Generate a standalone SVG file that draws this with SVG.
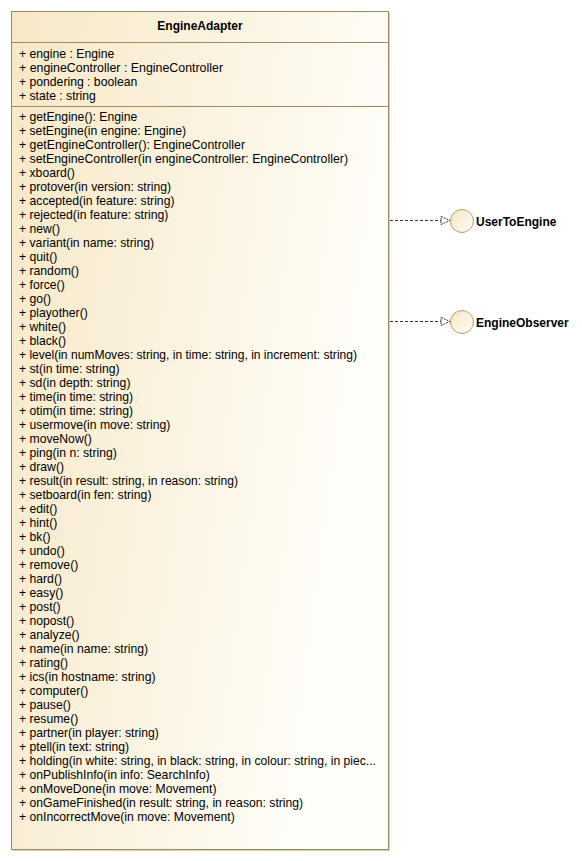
<svg xmlns="http://www.w3.org/2000/svg" width="582" height="861" viewBox="0 0 582 861">
<defs>
<linearGradient id="boxg" x1="0" y1="0" x2="1" y2="0.3">
<stop offset="0" stop-color="#f7e8c6"/>
<stop offset="1" stop-color="#fffefa"/>
</linearGradient>
<linearGradient id="cg" x1="0" y1="0" x2="1" y2="1">
<stop offset="0" stop-color="#f6e6c0"/>
<stop offset="1" stop-color="#fffdf6"/>
</linearGradient>
<marker id="real" markerWidth="12" markerHeight="12" refX="10" refY="5" orient="auto" markerUnits="userSpaceOnUse">
<path d="M1,1 L10,5 L1,9 Z" fill="#ffffff" stroke="#333" stroke-width="1" stroke-dasharray="2,1"/>
</marker>
<style>
.t{font-family:"Liberation Sans",Arial,sans-serif;font-size:12.2px;fill:#000}
.b{font-family:"Liberation Sans",Arial,sans-serif;font-size:12px;font-weight:bold;fill:#000}
.sep{stroke:#9c8a5c;stroke-width:1}
.con{stroke:#333;stroke-width:1;stroke-dasharray:3,2;fill:none}
</style>
</defs>
<g id="EngineAdapter">
<rect x="13" y="13" width="377" height="838" fill="#d8d0bc"/>
<rect x="11.5" y="11.5" width="377" height="838" fill="url(#boxg)" stroke="#9c8a5c"/>
<line class="sep" x1="12" y1="42.5" x2="388" y2="42.5"/>
<line class="sep" x1="12" y1="106.5" x2="388" y2="106.5"/>
<text class="b" x="200" y="30" text-anchor="middle">EngineAdapter</text>
<text class="t" x="19" y="58">+ engine : Engine</text>
<text class="t" x="19" y="72" textLength="204" lengthAdjust="spacingAndGlyphs">+ engineController : EngineController</text>
<text class="t" x="19" y="86">+ pondering : boolean</text>
<text class="t" x="19" y="100">+ state : string</text>
<text class="t" x="19" y="121">+ getEngine(): Engine</text>
<text class="t" x="19" y="135">+ setEngine(in engine: Engine)</text>
<text class="t" x="19" y="149" textLength="226" lengthAdjust="spacingAndGlyphs">+ getEngineController(): EngineController</text>
<text class="t" x="19" y="163" textLength="329" lengthAdjust="spacingAndGlyphs">+ setEngineController(in engineController: EngineController)</text>
<text class="t" x="19" y="177">+ xboard()</text>
<text class="t" x="19" y="191">+ protover(in version: string)</text>
<text class="t" x="19" y="205">+ accepted(in feature: string)</text>
<text class="t" x="19" y="219">+ rejected(in feature: string)</text>
<text class="t" x="19" y="233">+ new()</text>
<text class="t" x="19" y="247">+ variant(in name: string)</text>
<text class="t" x="19" y="261">+ quit()</text>
<text class="t" x="19" y="275">+ random()</text>
<text class="t" x="19" y="289">+ force()</text>
<text class="t" x="19" y="303">+ go()</text>
<text class="t" x="19" y="317">+ playother()</text>
<text class="t" x="19" y="331">+ white()</text>
<text class="t" x="19" y="345">+ black()</text>
<text class="t" x="19" y="359" textLength="338" lengthAdjust="spacingAndGlyphs">+ level(in numMoves: string, in time: string, in increment: string)</text>
<text class="t" x="19" y="373">+ st(in time: string)</text>
<text class="t" x="19" y="387">+ sd(in depth: string)</text>
<text class="t" x="19" y="401">+ time(in time: string)</text>
<text class="t" x="19" y="415">+ otim(in time: string)</text>
<text class="t" x="19" y="429">+ usermove(in move: string)</text>
<text class="t" x="19" y="443">+ moveNow()</text>
<text class="t" x="19" y="457">+ ping(in n: string)</text>
<text class="t" x="19" y="471">+ draw()</text>
<text class="t" x="19" y="485" textLength="219" lengthAdjust="spacingAndGlyphs">+ result(in result: string, in reason: string)</text>
<text class="t" x="19" y="499">+ setboard(in fen: string)</text>
<text class="t" x="19" y="513">+ edit()</text>
<text class="t" x="19" y="527">+ hint()</text>
<text class="t" x="19" y="541">+ bk()</text>
<text class="t" x="19" y="555">+ undo()</text>
<text class="t" x="19" y="569">+ remove()</text>
<text class="t" x="19" y="583">+ hard()</text>
<text class="t" x="19" y="597">+ easy()</text>
<text class="t" x="19" y="611">+ post()</text>
<text class="t" x="19" y="625">+ nopost()</text>
<text class="t" x="19" y="639">+ analyze()</text>
<text class="t" x="19" y="653">+ name(in name: string)</text>
<text class="t" x="19" y="667">+ rating()</text>
<text class="t" x="19" y="681">+ ics(in hostname: string)</text>
<text class="t" x="19" y="695">+ computer()</text>
<text class="t" x="19" y="709">+ pause()</text>
<text class="t" x="19" y="723">+ resume()</text>
<text class="t" x="19" y="737">+ partner(in player: string)</text>
<text class="t" x="19" y="751">+ ptell(in text: string)</text>
<text class="t" x="19" y="765" textLength="357" lengthAdjust="spacingAndGlyphs">+ holding(in white: string, in black: string, in colour: string, in piec...</text>
<text class="t" x="19" y="779">+ onPublishInfo(in info: SearchInfo)</text>
<text class="t" x="19" y="793">+ onMoveDone(in move: Movement)</text>
<text class="t" x="19" y="807">+ onGameFinished(in result: string, in reason: string)</text>
<text class="t" x="19" y="821">+ onIncorrectMove(in move: Movement)</text>
</g>
<g id="UserToEngine">
<circle cx="462" cy="221" r="11.5" fill="url(#cg)" stroke="#b0a078"/>
<text class="b" x="476" y="226">UserToEngine</text>
</g>
<g id="EngineObserver">
<circle cx="462" cy="322" r="11.5" fill="url(#cg)" stroke="#b0a078"/>
<text class="b" x="476" y="327">EngineObserver</text>
</g>
<g id="connectors">
<line class="con" x1="390" y1="220.5" x2="450" y2="220.5" marker-end="url(#real)"/>
<line class="con" x1="390" y1="321.5" x2="450" y2="321.5" marker-end="url(#real)"/>
</g>
</svg>
